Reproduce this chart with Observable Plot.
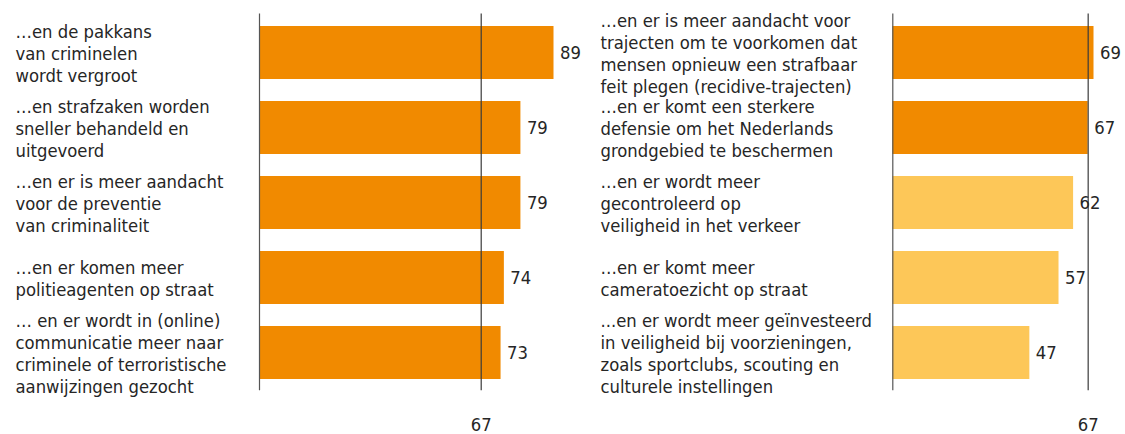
<!DOCTYPE html>
<html>
<head>
<meta charset="utf-8">
<script src="https://cdn.jsdelivr.net/npm/d3@7"></script>
<script src="https://cdn.jsdelivr.net/npm/@observablehq/plot@0.6"></script>
<style>
  html, body { margin: 0; padding: 0; background: #fff; }
  #chart { display: flex; flex-direction: row; width: 1125px; height: 434px; }
  #chart svg { overflow: visible; }
</style>
</head>
<body>
<div id="chart"></div>
<script>
const leftLabels = [
  "…en de pakkans\nvan criminelen\nwordt vergroot",
  "…en strafzaken worden\nsneller behandeld en\nuitgevoerd",
  "…en er is meer aandacht\nvoor de preventie\nvan criminaliteit",
  "…en er komen meer\npolitieagenten op straat",
  "… en er wordt in (online)\ncommunicatie meer naar\ncriminele of terroristische\naanwijzingen gezocht"
];
const leftValues = [89, 79, 79, 74, 73];

const rightLabels = [
  "…en er is meer aandacht voor\ntrajecten om te voorkomen dat\nmensen opnieuw een strafbaar\nfeit plegen (recidive-trajecten)",
  "…en er komt een sterkere\ndefensie om het Nederlands\ngrondgebied te beschermen",
  "…en er wordt meer\ngecontroleerd op\nveiligheid in het verkeer",
  "…en er komt meer\ncameratoezicht op straat",
  "...en er wordt meer geïnvesteerd\nin veiligheid bij voorzieningen,\nzoals sportclubs, scouting en\nculturele instellingen"
];
const rightValues = [69, 67, 62, 57, 47];

const referenceValue = 67;

const ORANGE = "#f18a00";
const YELLOW = "#fdc758";
const TEXT = "#262626";
const FONT = "'DejaVu Sans Condensed', 'DejaVu Sans', sans-serif";
const FS = 18.3;

function panel({labels, values, width, axisX, pxPerUnit, labelX}) {
  const data = labels.map((label, i) => ({label, value: values[i]}));
  const H = 434, top = 13.5, bottom = 390.2;
  return Plot.plot({
    width, height: H,
    marginLeft: axisX, marginRight: 0, marginTop: top, marginBottom: H - bottom,
    style: {fontFamily: FONT, fontSize: FS + "px", color: TEXT, background: "transparent"},
    x: {domain: [0, 100], range: [axisX, axisX + 100 * pxPerUnit], axis: null},
    y: {domain: labels, paddingInner: 0.3, paddingOuter: 0.15, axis: null},
    marks: [
      Plot.barX(data, {x: "value", y: "label", fill: d => d.value >= referenceValue ? ORANGE : YELLOW}),
      Plot.ruleX([0], {stroke: "#555", strokeWidth: 1.2}),
      Plot.ruleX([referenceValue], {stroke: "#3a3a3a", strokeWidth: 1.2}),
      Plot.text(data, {x: "value", y: "label", text: d => String(d.value), textAnchor: "start", dx: 6, fill: TEXT, fontSize: FS}),
      Plot.text(data, {y: "label", text: "label", frameAnchor: "left", dx: labelX - axisX, textAnchor: "start", lineAnchor: "middle", lineHeight: 1.19, fill: TEXT, fontSize: FS}),
      Plot.text([referenceValue], {x: d => d, frameAnchor: "bottom", dy: 40, text: d => String(d), fill: TEXT, fontSize: FS})
    ]
  });
}

const chart = document.getElementById("chart");
chart.append(panel({labels: leftLabels, values: leftValues, width: 590, axisX: 259, pxPerUnit: 3.309, labelX: 15}));
chart.append(panel({labels: rightLabels, values: rightValues, width: 535, axisX: 302.3, pxPerUnit: 2.916, labelX: 10}));
</script>
</body>
</html>
